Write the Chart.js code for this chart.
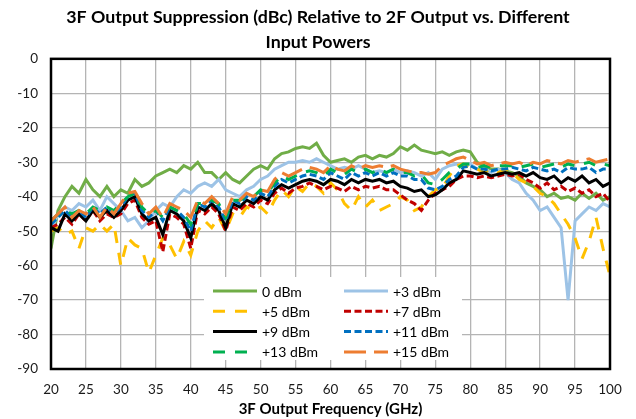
<!DOCTYPE html>
<html>
<head>
<meta charset="utf-8">
<title>3F Output Suppression</title>
<script src="https://cdn.jsdelivr.net/npm/chart.js@4.4.0/dist/chart.umd.min.js"></script>
<style>
	html, body { margin:0; padding:0; background:#fff; }
	#wrap { width:636px; height:419px; }
</style>
</head>
<body>
<div id="wrap"><canvas id="myChart" width="636" height="419"></canvas></div>
<script>

// Frequency (GHz)
var freqs = [
	20,21,22,23,24,25,26,27,28,29,
	30,31,32,33,34,35,36,37,38,39,
	40,41,42,43,44,45,46,47,48,49,
	50,51,52,53,54,55,56,57,58,59,
	60,61,62,63,64,65,66,67,68,69,
	70,71,72,73,74,75,76,77,78,79,
	80,81,82,83,84,85,86,87,88,89,
	90,91,92,93,94,95,96,97,98,99,
	100
];

// 3F suppression (dBc) per input power
var p0 = [
	-55,-44,-40,-37,-39,-35,-38,-40,-37,-40,
	-38,-39,-35,-37,-36,-34,-33,-32,-33,-31,
	-32,-30,-33,-33,-35,-33,-35,-36,-34,-32,
	-31,-32,-29,-27.5,-27,-26,-25.5,-26,-24.5,-28,
	-30,-29.5,-29,-30,-28.5,-28,-29,-28,-28.5,-27.5,
	-25.5,-26.5,-25,-26.5,-27,-27.5,-27,-28,-27,-26.5,
	-27,-30,-31,-32,-32,-32.5,-33,-34,-36,-37,
	-38,-40,-39,-40.5,-40,-41,-39,-40.5,-39,-41,
	-40
];
var p3 = [
	-50,-45,-43,-44,-42,-43,-41,-44,-40,-42,
	-44,-47,-46,-49,-47,-44,-42,-43,-40,-38,
	-39,-37,-36,-37,-35,-38,-39,-40,-38,-37,
	-35,-34,-32,-31,-30,-30,-29.5,-30,-29,-30,
	-31,-32,-31.5,-32,-31,-32,-33,-32.5,-33,-32,
	-33,-32.5,-33,-34,-33,-35,-32,-31,-30.5,-31,
	-30.5,-32,-32,-33,-32,-33,-35,-36,-39,-41,
	-44,-43,-46,-49,-70,-47,-45,-43,-44,-42,
	-43
];
var p5 = [
	-50,-49,-51,-50,-55,-49,-50,-48,-50,-48,
	-60,-52,-54,-55,-62,-57,-52,-54,-58,-53,
	-57,-50,-47,-49,-46,-50,-45,-46,-43,-44,
	-43,-45,-41,-38,-40,-37,-38.5,-36,-37,-39,
	-36,-38,-42,-44,-40,-43,-41,-44,-43,-42,
	-40,-41,-44,-43,-40,-38,-37.5,-34,-31,-30.5,
	-32,-32,-33,-32,-33,-32,-33,-35,-36,-37,
	-39,-40,-42,-45,-48,-52,-58,-53,-46,-55,
	-63
];
var p7 = [
	-49,-48,-46,-48,-45,-47,-44,-47,-45,-46,
	-45,-42,-41,-46,-48,-47,-56,-45,-46,-48,
	-55,-44,-45,-43,-45,-50,-43,-44,-42,-43,
	-41,-42,-39,-37.5,-39,-37.5,-37,-36,-37,-38,
	-37,-37.5,-38.5,-37,-38,-37,-37.5,-37,-38,-38,
	-39.5,-41,-42,-44,-41,-39,-38,-37,-35,-34,
	-34,-34.5,-34,-34.5,-34,-33.5,-34,-33.5,-35,-36,
	-37.5,-36,-38,-37,-38.5,-37.5,-39,-38,-40,-39,
	-41.5
];
var p9 = [
	-49,-50,-45,-47,-45,-47,-44,-46,-44,-46,
	-44,-41,-40,-45,-47,-46,-51,-44,-45,-47,
	-52,-43,-44,-42,-44,-49,-42,-43,-41,-42,
	-40,-41,-38,-36.5,-37.5,-36.5,-35.5,-35,-35.5,-36.5,
	-35,-35.5,-36.5,-35,-36,-35,-35.5,-35,-36,-35.5,
	-37,-37.5,-38.5,-38,-40,-39.5,-38,-36,-35,-32.5,
	-33,-33.5,-33,-34,-33.5,-33,-33.5,-33,-34,-33,
	-34.5,-35,-34,-36,-34.5,-35.5,-34,-36,-35,-37,
	-36
];
var p11 = [
	-48,-46,-44,-46,-44,-46,-43,-45,-43,-45,
	-43,-40,-39,-44,-46,-44,-47,-43,-44,-46,
	-50,-42,-43,-41,-43,-47,-41,-42,-40,-41,
	-39,-40,-37,-35,-36,-35,-34,-33.5,-34,-35,
	-33,-34,-35,-33,-34,-33,-34,-33,-34,-33,
	-34,-34,-35,-35,-37.5,-38,-37,-35,-34,-31.5,
	-31,-32,-32,-32.5,-32,-32,-31.5,-32,-32.5,-31.5,
	-32,-32.5,-32,-33,-31.5,-32,-32,-31.5,-33,-32,
	-32
];
var p13 = [
	-47,-45,-44,-45,-44,-45,-43,-44,-43,-44,
	-42,-40,-39,-43,-45,-44,-46,-43,-44,-45,
	-48,-42,-42,-41,-42,-46,-41,-41,-40,-40,
	-38,-39,-36,-34,-35,-34,-33,-32.5,-33,-34,
	-32,-33,-33.5,-32,-33,-32,-33,-32,-33,-32,
	-33,-33,-34,-33.5,-36,-36.5,-35,-33,-32,-30.5,
	-30.5,-31.5,-31,-31.5,-31,-31,-31,-31.5,-31,-30.5,
	-31.5,-31,-30.5,-31.5,-30.5,-31,-30.5,-30,-31,-30.5,
	-31
];
var p15 = [
	-47,-45,-43,-46,-44,-45,-43,-46,-43,-45,
	-42,-39,-38.5,-42,-45,-43,-46,-42,-43,-44,
	-46,-41,-42,-40,-42,-45,-40,-41,-39,-40,
	-38,-38.5,-35,-33,-34,-33,-32,-31.5,-32,-33,
	-31,-32,-32.5,-31,-32,-31,-31.5,-31,-31.5,-31,
	-32,-32.5,-33,-33,-33.5,-33,-31,-30,-29,-28.5,
	-29.5,-30.5,-30,-31,-30.5,-30,-30.5,-30,-31,-30,
	-30.5,-29.5,-30,-30.5,-29.5,-30,-29.5,-29,-30,-29.5,
	-29
];

var labels = ['0 dBm', '+3 dBm', '+5 dBm', '+7 dBm', '+9 dBm', '+11 dBm', '+13 dBm', '+15 dBm'];
var series = [p0, p3, p5, p7, p9, p11, p13, p15];
var colors = ['#70AD47', '#9DC3E6', '#FFC000', '#C00000', '#000000', '#0070C0', '#00B050', '#ED7D31'];
var dashes = [[], [], [12, 10], [7, 3.5], [], [7, 3.5], [12, 10], [22, 8]];

Chart.defaults.font.family = "Lato, 'Liberation Sans', sans-serif";
Chart.defaults.color = '#1a1a1a';

// Frame round the plot area
var frame = {
	id : 'frame',
	afterDatasetsDraw : (chart) => {
		var ctx = chart.ctx;
		var a   = chart.chartArea;
		ctx.save();
		ctx.strokeStyle = '#000';
		ctx.lineWidth   = 2.5;
		ctx.strokeRect(a.left, a.top, a.right - a.left, a.bottom - a.top);
		ctx.restore();
	}
};

// Legend inside the plot, two columns
var legendBox = {
	id : 'legendBox',
	afterDatasetsDraw : (chart) => {
		var ctx = chart.ctx;
		ctx.save();
		ctx.fillStyle = '#fff';
		ctx.fillRect(204, 277, 258, 83);
		ctx.font         = "14px Lato, 'Liberation Sans', sans-serif";
		ctx.textBaseline = 'middle';
		chart.data.datasets.forEach((ds, i) => {
			var x = (i % 2) ? 344 : 213;
			var y = 291 + Math.floor(i / 2) * 20.3;
			ctx.strokeStyle = ds.borderColor;
			ctx.lineWidth   = 3;
			ctx.setLineDash(ds.borderDash);
			ctx.beginPath();
			ctx.moveTo(x, y);
			ctx.lineTo(x + 44, y);
			ctx.stroke();
			ctx.setLineDash([]);
			ctx.fillStyle = '#000';
			ctx.fillText(ds.label, x + 49, y + 1);
		});
		ctx.restore();
	}
};

var ctx = document.getElementById('myChart');
var myChart = new Chart(ctx, {
	type : 'line',
	data : {
		datasets : series.map((s, i) => ({
			label       : labels[i],
			data        : s.map((v, j) => ({ x : freqs[j], y : v })),
			borderColor : colors[i],
			borderWidth : 3,
			borderDash  : dashes[i],
			pointRadius : 0,
			tension     : 0,
			fill        : false,
			order       : 8 - i
		}))
	},
	options : {
		responsive : false,
		animation  : false,
		devicePixelRatio : 1,
		layout : { padding : 0 },
		plugins : {
			legend  : { display : false },
			tooltip : { enabled : false },
			title   : {
				display : true,
				text    : ['3F Output Suppression (dBc) Relative to 2F Output vs. Different', 'Input Powers'],
				color   : '#000',
				font    : { size : 17.8, weight : 'bold', lineHeight : 1.4 },
				padding : { top : 5, bottom : 4 }
			}
		},
		scales : {
			x : {
				type : 'linear',
				min  : 20,
				max  : 100,
				grid   : { color : '#B4B4B4', lineWidth : 1.3, drawTicks : false },
				border : { display : false },
				ticks  : { stepSize : 5, padding : 13, font : { size : 13.5 } },
				title  : {
					display : true,
					text    : '3F Output Frequency (GHz)',
					color   : '#000',
					font    : { size : 15, weight : 'bold' },
					padding : { top : 0, bottom : 1 }
				},
				afterFit : (scale) => { scale.height = 50; }
			},
			y : {
				min  : -90,
				max  : 0,
				grid   : { color : '#B4B4B4', lineWidth : 1.3, drawTicks : false },
				border : { display : false },
				ticks  : { stepSize : 10, padding : 13, font : { size : 13.5 } },
				afterFit : (scale) => { scale.width = 51; }
			},
			// empty right margin
			yRight : {
				position : 'right',
				min  : -90,
				max  : 0,
				grid   : { display : false },
				border : { display : false },
				ticks  : { display : false },
				afterFit : (scale) => { scale.width = 26; }
			}
		}
	},
	plugins : [legendBox, frame]
});
</script>
</body>
</html>
